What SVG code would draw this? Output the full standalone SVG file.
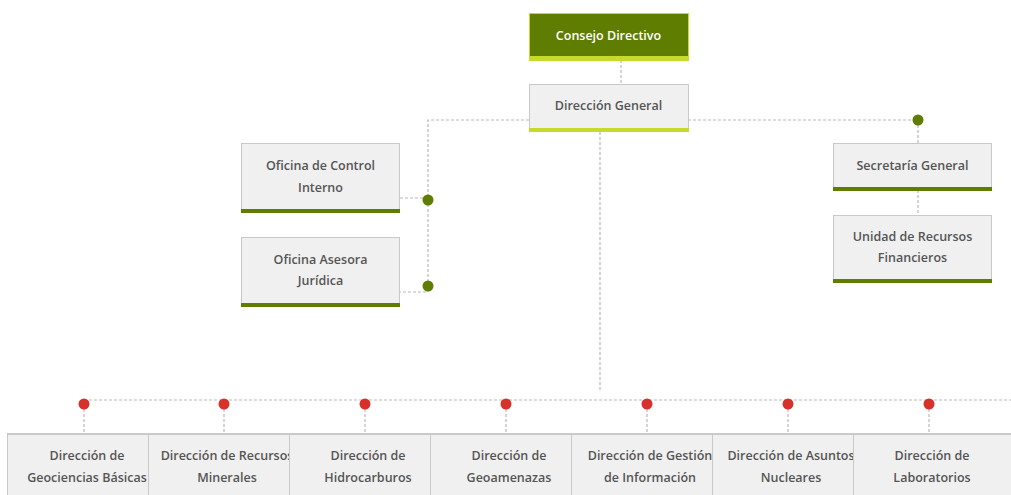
<svg xmlns="http://www.w3.org/2000/svg" width="1011" height="495" viewBox="0 0 1011 495">
<style>
.box{fill:#f0f0f0;stroke:#c9c9c9;stroke-width:1}
.bar{fill:#5f7d00}
.lime{fill:#c6da2b}
.t{font-family:"Open Sans","Noto Sans",sans-serif;font-weight:600;font-size:12.5px;fill:#555;text-anchor:middle}
.tw{fill:#fff}
.c{fill:none;stroke:#b9b9b9;stroke-width:1.2;stroke-dasharray:3 2}
.dg{fill:#5f7d00}
.dr{fill:#d7312b}
</style>
<defs>
<clipPath id="c1"><rect x="8" y="433" width="140" height="62"/></clipPath>
<clipPath id="c2"><rect x="149" y="433" width="140" height="62"/></clipPath>
<clipPath id="c3"><rect x="290" y="433" width="140" height="62"/></clipPath>
<clipPath id="c4"><rect x="431" y="433" width="140" height="62"/></clipPath>
<clipPath id="c5"><rect x="572" y="433" width="140" height="62"/></clipPath>
<clipPath id="c6"><rect x="713" y="433" width="140" height="62"/></clipPath>
<clipPath id="c7"><rect x="854" y="433" width="157" height="62"/></clipPath>
</defs>
<g id="connectors">
<path class="c" d="M621 60V84"/>
<path class="c" d="M529 120H428V292H400M428 198H400"/>
<path class="c" d="M688 120H918V143M918 190V215"/>
<path class="c" d="M600 132V392"/>
<path class="c" d="M84 400H1011"/>
<path class="c" d="M84 404V432M224 404V432M365 404V432M506 404V432M647 404V432M788 404V432M929 404V432"/>
<circle class="dg" cx="428" cy="200" r="5.5"/>
<circle class="dg" cx="428" cy="286" r="5.5"/>
<circle class="dg" cx="918" cy="120" r="5.5"/>
<circle class="dr" cx="84" cy="404" r="5.5"/>
<circle class="dr" cx="224" cy="404" r="5.5"/>
<circle class="dr" cx="365" cy="404" r="5.5"/>
<circle class="dr" cx="506" cy="404" r="5.5"/>
<circle class="dr" cx="647" cy="404" r="5.5"/>
<circle class="dr" cx="788" cy="404" r="5.5"/>
<circle class="dr" cx="929" cy="404" r="5.5"/>
</g>
<g id="consejo">
<rect x="529.5" y="13.5" width="159" height="47" fill="#5f7d00" stroke="#c6da2b"/>
<rect class="lime" x="529" y="56" width="160" height="5"/>
<text class="t tw" x="608.5" y="39.5">Consejo Directivo</text>
</g>
<g id="direccion-general">
<rect class="box" x="529.5" y="84.5" width="159" height="46"/>
<rect class="lime" x="529" y="128" width="160" height="4"/>
<text class="t" x="608.5" y="109.5">Dirección General</text>
</g>
<g id="oficina-control">
<rect class="box" x="241.5" y="143.5" width="158" height="68"/>
<rect class="bar" x="241" y="209" width="159" height="4"/>
<text class="t" x="320.5" y="169.5">Oficina de Control</text>
<text class="t" x="320.5" y="191.5">Interno</text>
</g>
<g id="oficina-juridica">
<rect class="box" x="241.5" y="237.5" width="158" height="68"/>
<rect class="bar" x="241" y="303" width="159" height="4"/>
<text class="t" x="320.5" y="263.5">Oficina Asesora</text>
<text class="t" x="320.5" y="284.5">Jurídica</text>
</g>
<g id="secretaria">
<rect class="box" x="833.5" y="143.5" width="158" height="46"/>
<rect class="bar" x="833" y="187" width="159" height="4"/>
<text class="t" x="912.5" y="169.5">Secretaría General</text>
</g>
<g id="unidad-financieros">
<rect class="box" x="833.5" y="215.5" width="158" height="66"/>
<rect class="bar" x="833" y="279" width="159" height="4"/>
<text class="t" x="912.5" y="241">Unidad de Recursos</text>
<text class="t" x="912.5" y="262">Financieros</text>
</g>
<g id="bottom-row">
<path d="M7 434H1011" stroke="#c9c9c9" stroke-width="2" fill="none"/>
</g>
<g id="d1"><rect class="box" x="7.5" y="433.5" width="141" height="70"/><g clip-path="url(#c1)"><text class="t" x="87" y="459.5">Dirección de</text><text class="t" x="87" y="481.5">Geociencias Básicas</text></g></g>
<g id="d2"><rect class="box" x="148.5" y="433.5" width="141" height="70"/><g clip-path="url(#c2)"><text class="t" x="227" y="459.5">Dirección de Recursos</text><text class="t" x="227" y="481.5">Minerales</text></g></g>
<g id="d3"><rect class="box" x="289.5" y="433.5" width="141" height="70"/><g clip-path="url(#c3)"><text class="t" x="368" y="459.5">Dirección de</text><text class="t" x="368" y="481.5">Hidrocarburos</text></g></g>
<g id="d4"><rect class="box" x="430.5" y="433.5" width="141" height="70"/><g clip-path="url(#c4)"><text class="t" x="509" y="459.5">Dirección de</text><text class="t" x="509" y="481.5">Geoamenazas</text></g></g>
<g id="d5"><rect class="box" x="571.5" y="433.5" width="141" height="70"/><g clip-path="url(#c5)"><text class="t" x="650" y="459.5">Dirección de Gestión</text><text class="t" x="650" y="481.5">de Información</text></g></g>
<g id="d6"><rect class="box" x="712.5" y="433.5" width="141" height="70"/><g clip-path="url(#c6)"><text class="t" x="791" y="459.5">Dirección de Asuntos</text><text class="t" x="791" y="481.5">Nucleares</text></g></g>
<g id="d7"><rect class="box" x="853.5" y="433.5" width="170" height="70"/><g clip-path="url(#c7)"><text class="t" x="932" y="459.5">Dirección de</text><text class="t" x="932" y="481.5">Laboratorios</text></g></g>
<path d="M7 434H1011" stroke="#c9c9c9" stroke-width="2" fill="none"/>
</svg>
